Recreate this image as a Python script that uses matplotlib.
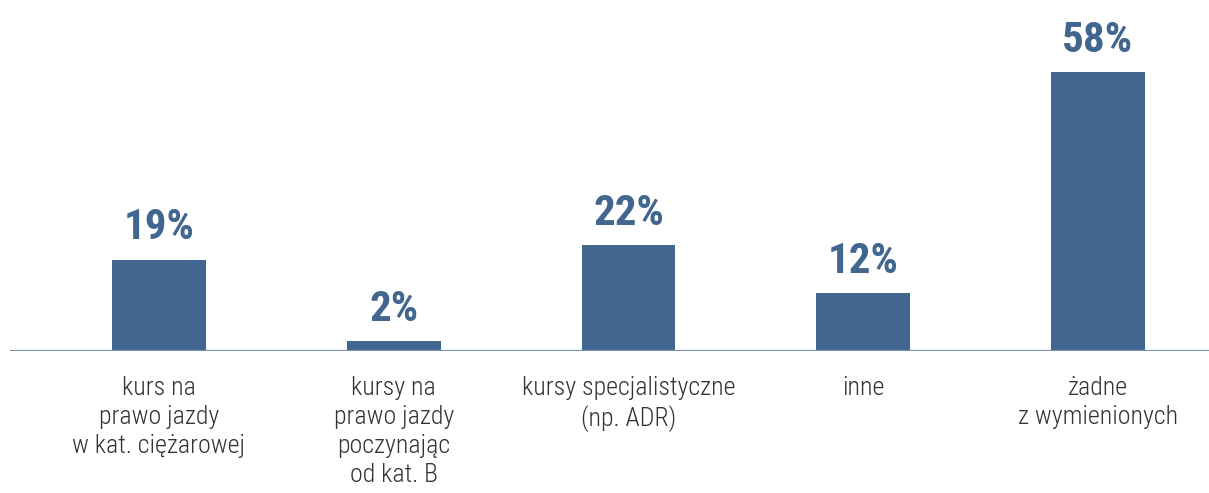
import matplotlib
matplotlib.use("Agg")
import matplotlib.pyplot as plt
from matplotlib import font_manager

categories = [
    "kurs na\nprawo jazdy\nw kat. ciężarowej",
    "kursy na\nprawo jazdy\npoczynając\nod kat. B",
    "kursy specjalistyczne\n(np. ADR)",
    "inne",
    "żadne\nz wymienionych",
]
values = [19, 2, 22, 12, 58]

bar_color = "#41668f"
line_color = "#7892b5"
text_color = "#333333"

names = sorted({f.name for f in font_manager.fontManager.ttflist})
fam = "Roboto Condensed" if "Roboto Condensed" in names else "Roboto"

W, H = 1209, 493
fig = plt.figure(figsize=(W / 100, H / 100), dpi=100)
base_px = 351
ax = fig.add_axes([10 / W, (H - base_px) / H, 1199 / W, base_px / H])

x = list(range(len(values)))
ax.bar(x, values, width=0.4, color=bar_color, zorder=2)
ax.axhline(0, color=line_color, lw=1.6, zorder=3)

ax.set_xlim(-0.6347, 4.473)
ax.set_ylim(0, 58 * 351 / 279)
ax.axis("off")

for xi, v, c in zip(x, values, categories):
    ax.annotate(f"{v}%", (xi, v), xytext=(0, 8), textcoords="offset points",
                ha="center", va="bottom", fontsize=31, fontweight="bold",
                color=bar_color, family=fam, fontstretch="condensed")
    ax.annotate(c, (xi, 0), xytext=(0, -18), textcoords="offset points",
                ha="center", va="top", fontsize=18.6, fontweight="light",
                color=text_color, family=fam, linespacing=1.26,
                fontstretch="condensed", annotation_clip=False)

fig.savefig("out.png", dpi=100)
